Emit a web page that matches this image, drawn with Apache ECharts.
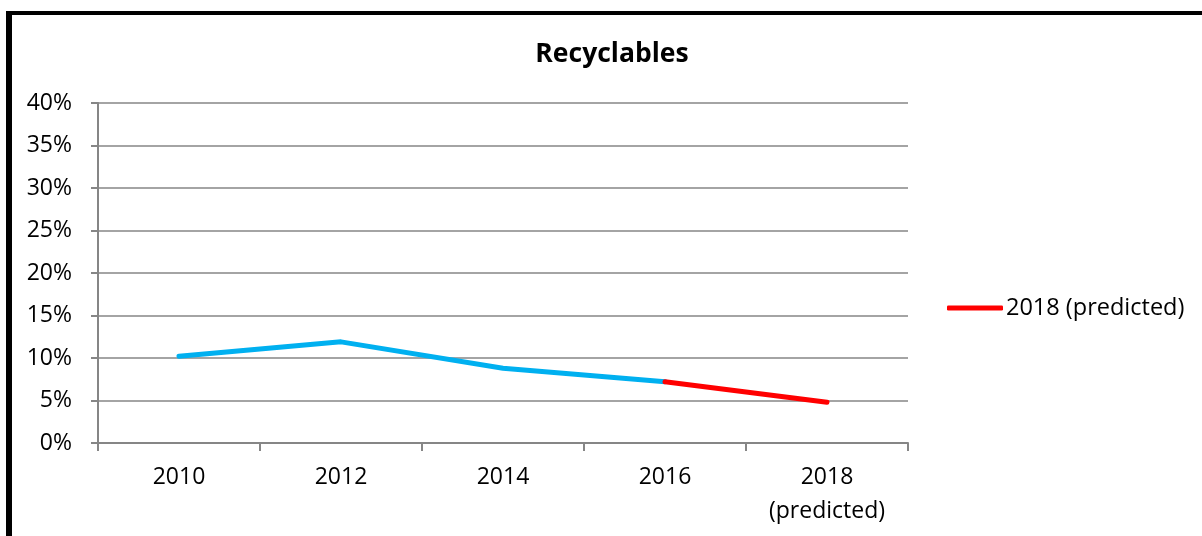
<!DOCTYPE html>
<html>
<head>
<meta charset="utf-8">
<script src="https://cdn.jsdelivr.net/npm/echarts@6/dist/echarts.min.js"></script>
<style>
html,body{margin:0;padding:0;background:#fff;}
#chart{width:1202px;height:536px;}
</style>
</head>
<body>
<div id="chart"></div>
<script>
const categories = ['2010', '2012', '2014', '2016', '2018\n(predicted)'];
const actualValues = [10.2, 11.9, 8.8, 7.2, null];
const predictedValues = [null, null, null, 7.2, 4.8];
const yTicks = [0, 5, 10, 15, 20, 25, 30, 35, 40];
const titleText = 'Recyclables';
const legendName = '2018 (predicted)';

const font = '"Open Sans", "Noto Sans", sans-serif';
const chart = echarts.init(document.getElementById('chart'), null, {renderer: 'canvas'});
chart.setOption({
  animation: false,
  backgroundColor: '#fff',
  title: {
    text: titleText,
    left: 607, top: 36, textAlign: 'center',
    textStyle: {fontFamily: font, fontSize: 26.5, fontWeight: 'bold', color: '#000'}
  },
  legend: {
    data: [legendName],
    left: 942, top: 291,
    itemWidth: 56, itemHeight: 5, itemGap: 2,
    icon: 'roundRect',
    textStyle: {fontFamily: font, fontSize: 23.5, color: '#000', padding: [0,0,0,-2]}
  },
  grid: {left: 98, right: 1202 - 908, top: 103, bottom: 536 - 443, containLabel: false},
  xAxis: {
    type: 'category',
    data: categories,
    boundaryGap: true,
    axisLine: {lineStyle: {color: '#868686', width: 2}},
    axisTick: {show: true, length: 8, lineStyle: {color: '#868686', width: 2}},
    axisLabel: {fontFamily: font, fontSize: 23, color: '#000', margin: 17, lineHeight: 34}
  },
  yAxis: {
    type: 'value',
    min: 0, max: 40, interval: 5,
    axisLine: {show: true, lineStyle: {color: '#868686', width: 2}},
    axisTick: {show: true, length: 7, lineStyle: {color: '#868686', width: 2}},
    splitLine: {lineStyle: {color: '#868686', width: 1.5}},
    axisLabel: {
      fontFamily: font, fontSize: 23, color: '#000', margin: 26,
      formatter: v => yTicks.includes(v) ? v + '%' : ''
    }
  },
  graphic: [
    {type: 'rect', shape: {x: 6, y: 11, width: 6, height: 530}, style: {fill: '#000'}, silent: true},
    {type: 'rect', shape: {x: 6, y: 11, width: 1200, height: 4}, style: {fill: '#000'}, silent: true}
  ],
  series: [
    {
      name: 'Actual', type: 'line', data: actualValues,
      showSymbol: false, symbol: 'none',
      lineStyle: {color: '#00B0F0', width: 5, cap: 'round', join: 'round'},
      itemStyle: {color: '#00B0F0'}
    },
    {
      name: legendName, type: 'line', data: predictedValues,
      showSymbol: false, symbol: 'none',
      lineStyle: {color: '#FF0000', width: 5, cap: 'round', join: 'round'},
      itemStyle: {color: '#FF0000'}
    }
  ]
});
</script>
</body>
</html>
